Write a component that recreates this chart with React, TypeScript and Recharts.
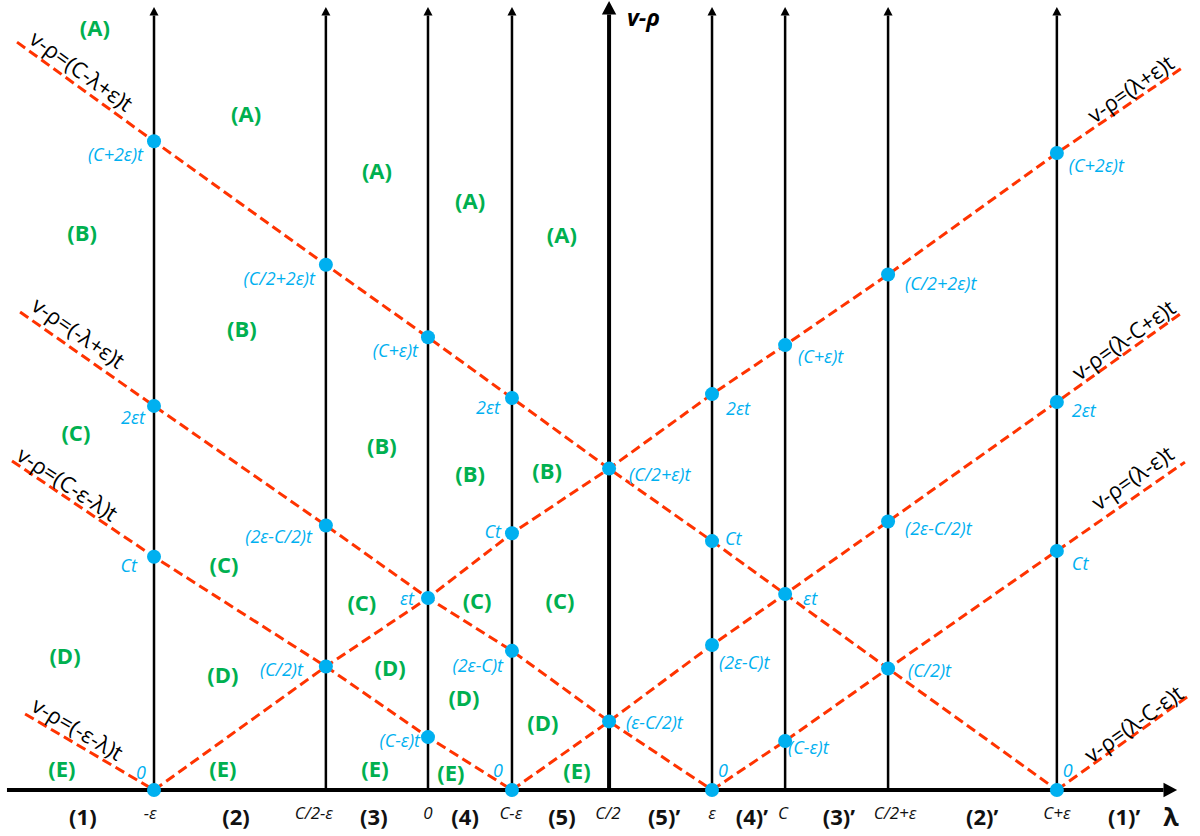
import React from "react";
import { ComposedChart, Line, Scatter, XAxis, YAxis, ReferenceLine } from "recharts";

// λ measured in units of ε, v-ρ in units of ε·t (C ≈ 1.28ε as drawn)
const guides = [
  { x: -0.982, name: "-ε" },
  { x: -0.366, name: "C/2-ε" },
  { x: 0, name: "0" },
  { x: 0.301, name: "C-ε" },
  { x: 0.649, name: "C/2", title: "v-ρ" },
  { x: 1.018, name: "ε" },
  { x: 1.28, name: "C" },
  { x: 1.649, name: "C/2+ε" },
  { x: 2.254, name: "C+ε" },
];

// bottom labels: region numbers and guide names
const axisTicks = [
  { x: -1.237, text: "(1)", kind: "region" },
  { x: -0.996, text: "-ε", kind: "pos" },
  { x: -0.688, text: "(2)", kind: "region" },
  { x: -0.409, text: "C/2-ε", kind: "pos" },
  { x: -0.194, text: "(3)", kind: "region" },
  { x: 0, text: "0", kind: "pos" },
  { x: 0.133, text: "(4)", kind: "region" },
  { x: 0.297, text: "C-ε", kind: "pos" },
  { x: 0.48, text: "(5)", kind: "region" },
  { x: 0.645, text: "C/2", kind: "pos" },
  { x: 0.846, text: "(5)’", kind: "region" },
  { x: 1.018, text: "ε", kind: "pos" },
  { x: 1.161, text: "(4)’", kind: "region" },
  { x: 1.272, text: "C", kind: "pos" },
  { x: 1.473, text: "(3)’", kind: "region" },
  { x: 1.674, text: "C/2+ε", kind: "pos" },
  { x: 1.986, text: "(2)’", kind: "region" },
  { x: 2.254, text: "C+ε", kind: "pos" },
  { x: 2.495, text: "(1)’", kind: "region" },
  { x: 2.663, text: "λ", kind: "axis" },
];

// red dashed characteristics
const lineCminusLplusE = [
  { x: -1.473, y: 3.816 }, { x: -0.982, y: 3.31 }, { x: -0.366, y: 2.68 }, { x: 0, y: 2.31 },
  { x: 0.301, y: 2.0 }, { x: 0.649, y: 1.64 }, { x: 1.018, y: 1.27 }, { x: 1.28, y: 1.0 },
  { x: 1.649, y: 0.62 }, { x: 2.254, y: 0 },
];
const lineMinusLplusE = [
  { x: -1.462, y: 2.439 }, { x: -0.982, y: 1.96 }, { x: -0.366, y: 1.35 }, { x: 0, y: 0.98 },
  { x: 0.301, y: 0.71 }, { x: 0.649, y: 0.35 }, { x: 1.018, y: 0 },
];
const lineCminusEminusL = [
  { x: -1.491, y: 1.679 }, { x: -0.982, y: 1.19 }, { x: -0.366, y: 0.63 }, { x: 0, y: 0.27 },
  { x: 0.301, y: 0 },
];
const lineMinusEminusL = [
  { x: -1.444, y: 0.388 }, { x: -0.982, y: 0 },
];
const lineLplusE = [
  { x: -0.982, y: 0 }, { x: -0.366, y: 0.63 }, { x: 0, y: 0.98 }, { x: 0.301, y: 1.31 },
  { x: 0.649, y: 1.64 }, { x: 1.018, y: 2.02 }, { x: 1.28, y: 2.27 }, { x: 1.649, y: 2.63 },
  { x: 2.254, y: 3.25 }, { x: 2.713, y: 3.694 },
];
const lineLminusCplusE = [
  { x: 0.301, y: 0 }, { x: 0.649, y: 0.35 }, { x: 1.018, y: 0.74 }, { x: 1.28, y: 1.0 },
  { x: 1.649, y: 1.37 }, { x: 2.254, y: 1.98 }, { x: 2.706, y: 2.439 },
];
const lineLminusE = [
  { x: 1.018, y: 0 }, { x: 1.28, y: 0.25 }, { x: 1.649, y: 0.62 }, { x: 2.254, y: 1.22 },
  { x: 2.713, y: 1.673 },
];
const lineLminusCminusE = [
  { x: 2.254, y: 0 }, { x: 2.731, y: 0.485 },
];

const redLines = [
  lineCminusLplusE, lineMinusLplusE, lineCminusEminusL, lineMinusEminusL,
  lineLplusE, lineLminusCplusE, lineLminusE, lineLminusCminusE,
];

const equationLabels = [
  { x: -1.24, y: 3.673, text: "v-ρ=(C-λ+ε)t", line: 0 },
  { x: -1.251, y: 2.337, text: "v-ρ=(-λ+ε)t", line: 1 },
  { x: -1.29, y: 1.566, text: "v-ρ=(C-ε-λ)t", line: 2 },
  { x: -1.254, y: 0.316, text: "v-ρ=(-ε-λ)t", line: 3 },
  { x: 2.516, y: 3.582, text: "v-ρ=(λ+ε)t", line: 4 },
  { x: 2.491, y: 2.301, text: "v-ρ=(λ-C+ε)t", line: 5 },
  { x: 2.523, y: 1.597, text: "v-ρ=(λ-ε)t", line: 6 },
  { x: 2.527, y: 0.342, text: "v-ρ=(λ-C-ε)t", line: 7 },
];

// intersections
const dots = [
  { x: -0.982, y: 3.31, label: "(C+2ε)t" },
  { x: -0.982, y: 1.96, label: "2εt" },
  { x: -0.982, y: 1.19, label: "Ct" },
  { x: -0.982, y: 0, label: "0" },
  { x: -0.366, y: 2.68, label: "(C/2+2ε)t" },
  { x: -0.366, y: 1.35, label: "(2ε-C/2)t" },
  { x: -0.366, y: 0.63, label: "(C/2)t" },
  { x: 0, y: 2.31, label: "(C+ε)t" },
  { x: 0, y: 0.98, label: "εt" },
  { x: 0, y: 0.27, label: "(C-ε)t" },
  { x: 0.301, y: 2.0, label: "2εt" },
  { x: 0.301, y: 1.31, label: "Ct" },
  { x: 0.301, y: 0.71, label: "(2ε-C)t" },
  { x: 0.301, y: 0, label: "0" },
  { x: 0.649, y: 1.64, label: "(C/2+ε)t" },
  { x: 0.649, y: 0.35, label: "(ε-C/2)t" },
  { x: 1.018, y: 2.02, label: "2εt" },
  { x: 1.018, y: 1.27, label: "Ct" },
  { x: 1.018, y: 0.74, label: "(2ε-C)t" },
  { x: 1.018, y: 0, label: "0" },
  { x: 1.28, y: 2.27, label: "(C+ε)t" },
  { x: 1.28, y: 1.0, label: "εt" },
  { x: 1.28, y: 0.25, label: "(C-ε)t" },
  { x: 1.649, y: 2.63, label: "(C/2+2ε)t" },
  { x: 1.649, y: 1.37, label: "(2ε-C/2)t" },
  { x: 1.649, y: 0.62, label: "(C/2)t" },
  { x: 2.254, y: 3.25, label: "(C+2ε)t" },
  { x: 2.254, y: 1.98, label: "2εt" },
  { x: 2.254, y: 1.22, label: "Ct" },
  { x: 2.254, y: 0, label: "0" },
];
// where each dot's text sits, in px from the dot (negative dx = left of it)
const dotLabelOffset = [
  [-11, 13], [-9, 11], [-17, 8], [-8, -18],
  [-11, 13], [-14, 11], [-23, 2],
  [-10, 13], [-14, 0], [-8, 3],
  [-12, 9], [-11, -2], [-9, 14], [-9, -20],
  [20, 5], [17, 1],
  [14, 14], [13, -3], [7, 17], [6, -20],
  [13, 11], [18, 4], [3, 6],
  [17, 8], [17, 6], [20, 2],
  [12, 12], [15, 8], [15, 12], [6, -20],
];

const regionLabels = [
  { x: -1.194, y: 3.893, text: "(A)" },
  { x: -0.652, y: 3.454, text: "(A)" },
  { x: -0.183, y: 3.163, text: "(A)" },
  { x: 0.151, y: 3.01, text: "(A)" },
  { x: 0.48, y: 2.837, text: "(A)" },
  { x: -1.24, y: 2.847, text: "(B)" },
  { x: -0.667, y: 2.357, text: "(B)" },
  { x: -0.165, y: 1.76, text: "(B)" },
  { x: 0.151, y: 1.617, text: "(B)" },
  { x: 0.427, y: 1.633, text: "(B)" },
  { x: -1.262, y: 1.827, text: "(C)" },
  { x: -0.731, y: 1.153, text: "(C)" },
  { x: -0.237, y: 0.959, text: "(C)" },
  { x: 0.176, y: 0.969, text: "(C)" },
  { x: 0.473, y: 0.969, text: "(C)" },
  { x: -1.301, y: 0.689, text: "(D)" },
  { x: -0.735, y: 0.592, text: "(D)" },
  { x: -0.136, y: 0.628, text: "(D)" },
  { x: 0.129, y: 0.474, text: "(D)" },
  { x: 0.412, y: 0.347, text: "(D)" },
  { x: -1.312, y: 0.112, text: "(E)" },
  { x: -0.735, y: 0.112, text: "(E)" },
  { x: -0.19, y: 0.112, text: "(E)" },
  { x: 0.082, y: 0.092, text: "(E)" },
  { x: 0.534, y: 0.102, text: "(E)" },
];

const W = 1200;
const H = 836;
const AXIS_H = 46;
const X_DOMAIN = [-1.534, 2.767];
const Y_DOMAIN = [0, 4.031];
const PX_X = W / (X_DOMAIN[1] - X_DOMAIN[0]);
const PX_Y = (H - AXIS_H) / (Y_DOMAIN[1] - Y_DOMAIN[0]);
const FONT = '"Open Sans", "DejaVu Sans", sans-serif';
const RED = "#ff3300";
const CYAN = "#00b0f0";
const GREEN = "#00b050";

function Arrow(props: any) {
  const { x1, y1, x2, y2, stroke, strokeWidth, title } = props;
  const sw = Number(strokeWidth) || 2;
  const dx = x2 - x1;
  const dy = y2 - y1;
  const len = Math.hypot(dx, dy) || 1;
  const ux = dx / len;
  const uy = dy / len;
  const hl = sw * 3.4;
  const hw = sw * 1.8;
  const bx = x2 - ux * hl;
  const by = y2 - uy * hl;
  const pts = `${x2},${y2} ${bx - uy * hw},${by + ux * hw} ${bx + uy * hw},${by - ux * hw}`;
  return (
    <g>
      <line x1={x1} y1={y1} x2={bx} y2={by} stroke={stroke} strokeWidth={sw} />
      <polygon points={pts} fill={stroke} />
      {title && (
        <text x={x2 + 18} y={y2 + 25} fontFamily={FONT} fontSize={23} fontWeight="bold" fontStyle="italic" fill="#000">
          {title}
        </text>
      )}
    </g>
  );
}

function AxisTick({ x, y, payload }: any) {
  const t = axisTicks.find((a) => Math.abs(a.x - payload.value) < 1e-6);
  if (!t) return null;
  if (t.kind === "pos") {
    return (
      <text x={x} y={y + 14} textAnchor="middle" dominantBaseline="central" fontFamily={FONT} fontSize={17} fontStyle="italic" fill="#111">
        {t.text}
      </text>
    );
  }
  return (
    <text x={x} y={y + 18} textAnchor="middle" dominantBaseline="central" fontFamily={FONT} fontSize={t.kind === "axis" ? 25 : 22} fontWeight="bold" fill="#111">
      {t.text}
    </text>
  );
}

function DotShape({ cx, cy, payload }: any) {
  const i = dots.findIndex((d) => d.x === payload.x && d.y === payload.y && d.label === payload.label);
  const [dx, dy] = dotLabelOffset[i] || [10, 0];
  return (
    <g>
      <circle cx={cx} cy={cy} r={7} fill={CYAN} />
      <text x={cx + dx} y={cy + dy} textAnchor={dx < 0 ? "end" : "start"} dominantBaseline="central" fontFamily={FONT} fontSize={18} fontStyle="italic" fill={CYAN}>
        {payload.label}
      </text>
    </g>
  );
}

function RegionShape({ cx, cy, payload }: any) {
  return (
    <text x={cx} y={cy} textAnchor="middle" dominantBaseline="central" fontFamily={FONT} fontSize={22} fontWeight="bold" fill={GREEN}>
      {payload.text}
    </text>
  );
}

function EquationShape({ cx, cy, payload }: any) {
  const pts = redLines[payload.line];
  const a = pts[0];
  const b = pts[pts.length - 1];
  const angle = (-Math.atan2((b.y - a.y) * PX_Y, (b.x - a.x) * PX_X) * 180) / Math.PI;
  return (
    <text x={cx} y={cy} textAnchor="middle" dominantBaseline="central" transform={`rotate(${angle} ${cx} ${cy})`} fontFamily={FONT} fontSize={22} fill="#000">
      {payload.text}
    </text>
  );
}

export default function App() {
  return (
    <div style={{ position: "absolute", left: 0, top: 0, width: W, height: H, background: "#fff", fontFamily: FONT }}>
      <ComposedChart width={W} height={H} margin={{ top: 0, right: 0, bottom: 0, left: 0 }}>
        <XAxis
          type="number"
          dataKey="x"
          domain={X_DOMAIN}
          ticks={axisTicks.map((t) => t.x)}
          interval={0}
          tick={<AxisTick />}
          tickLine={false}
          axisLine={false}
          height={AXIS_H}
        />
        <YAxis type="number" dataKey="y" domain={Y_DOMAIN} hide />

        {guides.map((g) => (
          <ReferenceLine
            key={g.name}
            ifOverflow="visible"
            segment={[{ x: g.x, y: 0 }, { x: g.x, y: g.title ? 4.026 : 3.995 }]}
            stroke="#000"
            strokeWidth={g.title ? 4 : 2.5}
            shape={(p: any) => <Arrow {...p} title={g.title} />}
          />
        ))}
        <ReferenceLine
          ifOverflow="visible"
          segment={[{ x: -1.509, y: 0 }, { x: 2.685, y: 0 }]}
          stroke="#000"
          strokeWidth={4}
          shape={(p: any) => <Arrow {...p} />}
        />

        {redLines.map((pts, i) => (
          <Line
            key={i}
            data={pts}
            dataKey="y"
            type="linear"
            stroke={RED}
            strokeWidth={3}
            strokeDasharray="10 5"
            dot={false}
            activeDot={false}
            isAnimationActive={false}
          />
        ))}

        <Scatter data={regionLabels} dataKey="y" shape={RegionShape} isAnimationActive={false} />
        <Scatter data={equationLabels} dataKey="y" shape={EquationShape} isAnimationActive={false} />
        <Scatter data={dots} dataKey="y" shape={DotShape} isAnimationActive={false} />
      </ComposedChart>
    </div>
  );
}
